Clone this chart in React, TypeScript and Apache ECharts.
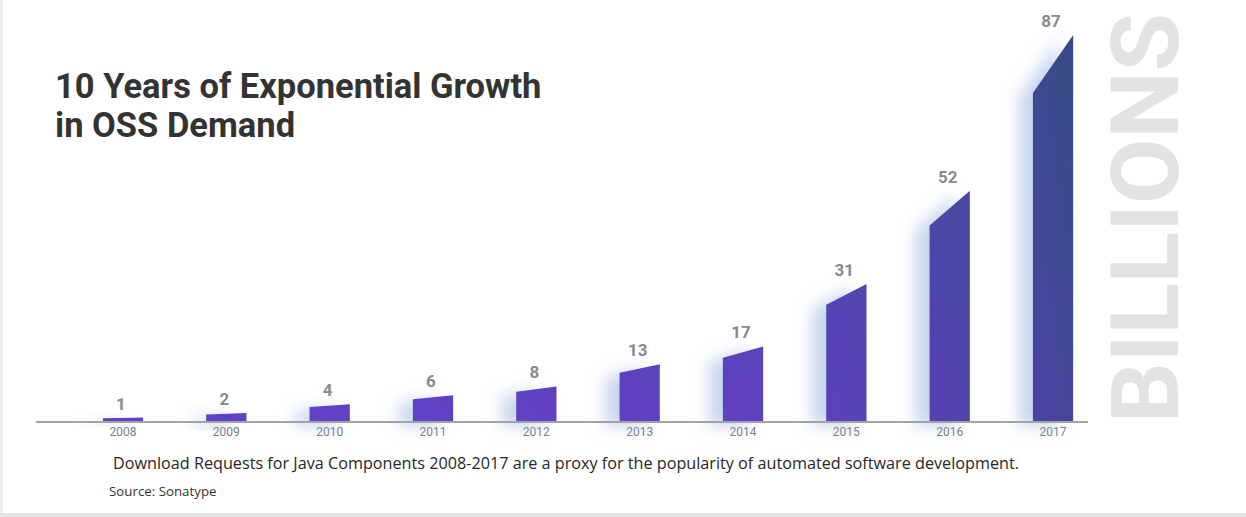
import React, { useEffect, useRef } from "react";
import * as echarts from "echarts";

const years = ["2008", "2009", "2010", "2011", "2012", "2013", "2014", "2015", "2016", "2017"];
const downloads = [1, 2, 4, 6, 8, 13, 17, 31, 52, 87];
const titleText = "10 Years of Exponential Growth\nin OSS Demand";
const unitText = "BILLIONS";
const captionText =
  "Download Requests for Java Components 2008-2017 are a proxy for the popularity of automated software development.";
const sourceText = "Source: Sonatype";

function hex(c: string): number[] {
  return [1, 3, 5].map((i) => parseInt(c.slice(i, i + 2), 16));
}
function mix(a: string, b: string, t: number): string {
  const A = hex(a), B = hex(b);
  const r = A.map((v, i) => Math.round(v + (B[i] - v) * t));
  return `rgb(${r[0]},${r[1]},${r[2]})`;
}

export default function App() {
  const ref = useRef<HTMLDivElement>(null);
  useEffect(() => {
    document.body.style.margin = "0";
    const chart = echarts.init(ref.current!, null, { renderer: "svg" });
    const maxV = Math.max(...downloads);
    const option: any = {
      animation: false,
      backgroundColor: "#ffffff",
      title: {
        text: titleText,
        left: 50,
        top: 61,
        textStyle: {
          fontFamily: "Roboto",
          fontWeight: "bold",
          fontSize: 34.5,
          lineHeight: 39,
          color: "#333333",
        },
      },
      grid: { left: 71.3, right: 141.3, top: 35, bottom: 95, containLabel: false },
      xAxis: {
        type: "category",
        data: years,
        axisLine: { show: false },
        axisTick: { show: false },
        axisLabel: {
          margin: 4,
          color: "#7d7d7d",
          fontFamily: "Roboto",
          fontSize: 12,
        },
      },
      yAxis: {
        type: "value",
        min: 0,
        max: maxV,
        show: false,
        splitLine: { show: false },
      },
      graphic: [
        { type: "rect", shape: { x: 0, y: 0, width: 3, height: 517 }, style: { fill: "#eeeeee" }, z: 0 },
        { type: "rect", shape: { x: 0, y: 513, width: 1246, height: 4 }, style: { fill: "#e4e4e4" }, z: 0 },
        {
          type: "line",
          shape: { x1: 36, y1: 422, x2: 1088, y2: 422 },
          style: { stroke: "#a3a3a3", lineWidth: 2 },
          z: 10,
        },
        {
          type: "text",
          x: 1145,
          y: 218,
          rotation: Math.PI / 2,
          style: {
            text: unitText,
            font: "bold 95px Roboto",
            fill: "#e2e3e3",
            align: "center",
            verticalAlign: "middle",
          },
        },
        {
          type: "text",
          x: 566,
          y: 463,
          style: {
            text: captionText,
            font: "16.2px 'Open Sans'",
            fill: "#262626",
            align: "center",
            verticalAlign: "middle",
          },
        },
        {
          type: "text",
          x: 109,
          y: 491,
          style: {
            text: sourceText,
            font: "13.3px 'Open Sans'",
            fill: "#333333",
            align: "left",
            verticalAlign: "middle",
          },
        },
      ],
      series: [
        {
          type: "custom",
          data: downloads.map((v, i) => [i, v]),
          encode: { x: 0, y: 1 },
          renderItem: (params: any, api: any) => {
            const idx = api.value(0);
            const v = api.value(1);
            const top = api.coord([idx, v]);
            const base = api.coord([idx, 0]);
            const w = api.size([1, 0])[0] * 0.39;
            const h = base[1] - top[1];
            const l = top[0] - w / 2;
            const r = top[0] + w / 2;
            const t = v / maxV;
            const fill = new echarts.graphic.LinearGradient(0, 1, 0.6, 0, [
              { offset: 0, color: mix("#6440c8", "#4d42a6", t) },
              { offset: 1, color: mix("#6240c6", "#384c88", t) },
            ]);
            return {
              type: "group",
              children: [
                {
                  type: "polygon",
                  shape: {
                    points: [
                      [l, base[1]],
                      [l, base[1] - h * 0.85],
                      [r, top[1]],
                      [r, base[1]],
                    ],
                  },
                  style: {
                    fill,
                    shadowBlur: 16,
                    shadowColor: "rgba(140,170,220,0.5)",
                    shadowOffsetX: -14,
                    shadowOffsetY: 4,
                  },
                },
                {
                  type: "text",
                  x: top[0] - 2,
                  y: top[1] - 14,
                  style: {
                    text: String(v),
                    font: "bold 17px Roboto",
                    fill: "#8a8a8a",
                    align: "center",
                    verticalAlign: "middle",
                  },
                },
              ],
            };
          },
        },
      ],
    };
    chart.setOption(option);
    return () => chart.dispose();
  }, []);
  return <div ref={ref} style={{ width: 1246, height: 517 }} />;
}
